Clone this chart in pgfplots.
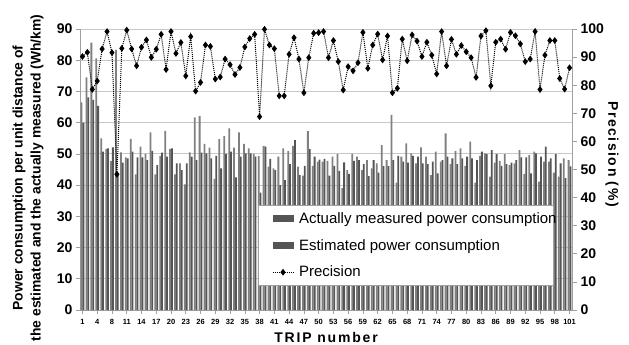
\documentclass[border=0pt]{standalone}
\usepackage{fontspec}
\setmainfont{Liberation Sans}
\usepackage{pgfplots}
\pgfplotsset{compat=1.18}
\usepackage{pgfplotstable}
\definecolor{barA}{RGB}{128,128,128}
\definecolor{barE}{RGB}{85,85,85}
\definecolor{axgray}{RGB}{160,160,160}
\definecolor{gridgray}{RGB}{200,200,200}
\pgfplotsset{
  mybarlegend/.style={legend image code/.code={\path (0pt,0pt) (43pt,0pt);\fill[##1] (17pt,-3.8pt) rectangle (38pt,3.8pt);}},
  mylinelegend/.style={legend image code/.code={\path (0pt,0pt) (43pt,0pt);\draw[##1] (17pt,0pt) -- (38pt,0pt) plot coordinates {(27.5pt,0pt)};}},
}

\pgfplotstableread{
i A E P
1 66.5 60.0 90.2
2 74.5 68.1 91.7
3 85.6 67.3 78.5
4 80.6 65.4 81.5
5 55.0 50.7 92.9
6 51.6 51.8 99.1
7 47.7 52.1 91.6
8 83.3 43.4 48.3
9 50.5 47.2 93.1
10 48.9 48.6 99.6
11 54.8 50.7 92.9
12 43.4 48.9 86.9
13 52.3 48.9 93.5
14 50.0 48.0 96.1
15 56.9 51.0 89.9
16 43.4 46.4 92.8
17 49.4 50.4 98.1
18 57.4 49.1 85.6
19 51.6 51.8 99.1
20 43.4 47.0 91.3
21 47.0 44.8 95.2
22 40.2 47.0 83.3
23 50.5 49.1 97.3
24 61.7 48.0 77.9
25 62.2 50.4 81.0
26 53.2 50.2 94.3
27 52.0 48.6 93.8
28 42.0 49.4 82.2
29 54.7 45.4 82.9
30 55.7 50.0 89.3
31 58.2 50.7 87.3
32 52.0 42.5 83.8
33 56.9 49.1 86.3
34 53.2 50.2 93.6
35 51.8 50.2 96.6
36 50.0 49.1 98.1
37 49.3 37.6 68.8
38 52.6 52.3 99.9
39 45.9 48.4 94.3
40 45.4 44.8 93.0
41 49.1 40.0 76.2
42 51.8 41.6 76.2
43 50.9 46.7 91.0
44 52.6 54.4 96.9
45 45.9 43.2 89.3
46 43.0 46.2 77.3
47 57.3 51.5 89.8
48 46.2 49.1 98.5
49 47.5 48.2 98.7
50 47.5 48.4 99.1
51 47.8 43.0 89.8
52 49.1 46.2 95.9
53 50.0 44.6 88.4
54 39.0 47.3 78.3
55 44.8 43.6 86.6
56 50.0 47.8 85.1
57 49.1 48.0 88.0
58 44.8 46.7 98.8
59 48.0 42.9 86.0
60 45.4 48.0 94.3
61 47.0 44.0 98.2
62 52.8 46.1 89.0
63 48.0 46.1 97.5
64 62.5 48.0 77.3
65 40.8 49.4 78.9
66 49.1 47.5 96.4
67 53.4 47.2 88.7
68 50.2 49.4 97.9
69 47.0 49.1 95.7
70 52.1 47.0 90.2
71 49.1 46.7 95.3
72 43.2 47.5 90.7
73 50.7 43.8 84.0
74 47.5 48.0 99.1
75 56.6 49.1 86.9
76 46.7 48.6 96.3
77 50.9 46.7 91.0
78 51.8 48.6 94.1
79 46.2 49.1 91.9
80 53.9 48.6 89.8
81 40.8 48.0 82.8
82 49.4 50.7 97.5
83 50.2 49.9 99.4
84 42.7 51.2 79.8
85 47.2 49.9 95.3
86 47.8 46.2 96.4
87 49.9 46.7 92.8
88 46.4 47.2 98.8
89 47.0 48.0 97.6
90 51.2 48.9 94.7
91 43.6 48.9 88.4
92 49.6 43.8 89.3
93 50.7 50.2 99.1
94 41.1 49.1 78.5
95 47.5 52.3 90.7
96 47.5 48.6 95.9
97 44.0 49.9 95.9
98 42.7 47.0 82.4
99 48.6 42.2 78.6
100 48.0 46.0 86.2
}\data

\begin{document}
\begin{tikzpicture}[x=1pt,y=1pt]
\begin{axis}[
  at={(0,0)}, anchor=south west,
  scale only axis, width=492pt, height=281pt,
  xmin=0.5, xmax=100.5, ymin=0, ymax=90,
  ybar=0pt, bar width=1.8pt,
  axis x line*=bottom, axis y line*=left,
  axis line style={axgray, line width=0.8pt},
  xtick={1,4,...,100},
  xticklabels={1,4,8,11,14,17,20,23,26,29,32,35,38,41,44,47,50,53,56,59,62,65,68,71,74,77,80,83,86,89,92,95,98,101},
  x tick label style={font=\bfseries\fontsize{7.5}{8}\selectfont, yshift=-2pt},
  ytick={0,10,...,90},
  y tick label style={font=\bfseries\fontsize{14}{14}\selectfont},
  /pgf/number format/assume math mode=true,
  tick align=outside, major tick length=4pt,
  tick style={axgray, line width=0.6pt},
  ymajorgrids, grid style={gridgray, line width=1pt},
  ylabel={Power consumption per unit distance of\\the estimated and the actually measured (Wh/km)},
  ylabel style={at={(axis description cs:-0.1057,0.47)}, anchor=center, align=center, font=\bfseries\fontsize{13.9}{18}\selectfont},
  xlabel={\addfontfeature{LetterSpace=13}TRIP number},
  xlabel style={at={(axis description cs:0.5,0)}, yshift=-27pt, anchor=center, font=\bfseries\fontsize{14}{14}\selectfont},
]
\addplot[fill=barA, draw=none] table[x=i, y=A]{\data};
\addplot[fill=barE, draw=none] table[x=i, y=E]{\data};
\end{axis}
\begin{axis}[
  at={(0,0)}, anchor=south west,
  scale only axis, width=492pt, height=281pt,
  xmin=0.5, xmax=100.5, ymin=0, ymax=100,
  axis x line=none, axis y line*=right,
  axis line style={axgray, line width=0.8pt},
  ytick={0,10,...,100},
  y tick label style={font=\bfseries\fontsize{14}{14}\selectfont},
  /pgf/number format/assume math mode=true,
  tick align=outside, major tick length=5pt,
  tick style={axgray, line width=0.6pt},
  ylabel={\addfontfeature{LetterSpace=11}Precision (\%)},
  ylabel style={at={(axis description cs:1.0813,0.555)}, anchor=center, rotate=180, font=\bfseries\fontsize{14}{14}\selectfont},
  legend style={at={(axis description cs:0.362,0.374)}, anchor=north west, draw=axgray, fill=white, line width=0.8pt,
    font=\fontsize{15}{16}\selectfont, row sep=10.5pt, inner xsep=-3.5pt, inner ysep=5pt,
    nodes={inner xsep=0pt}},
  legend cell align=left,
]
\addlegendimage{mybarlegend, fill=barE, draw=none}
\addlegendentry{Actually measured power consumption}
\addlegendimage{mybarlegend, fill=barE, draw=none}
\addlegendentry{Estimated power consumption}
\addplot[black, densely dotted, line width=1pt, mark=diamond*, mark size=2.6pt, mark options={solid}, mylinelegend]
  table[x=i, y=P]{\data};
\addlegendentry{Precision}
\end{axis}
\pgfresetboundingbox
\useasboundingbox (-80,-35) rectangle (549,310);
\end{tikzpicture}
\end{document}
